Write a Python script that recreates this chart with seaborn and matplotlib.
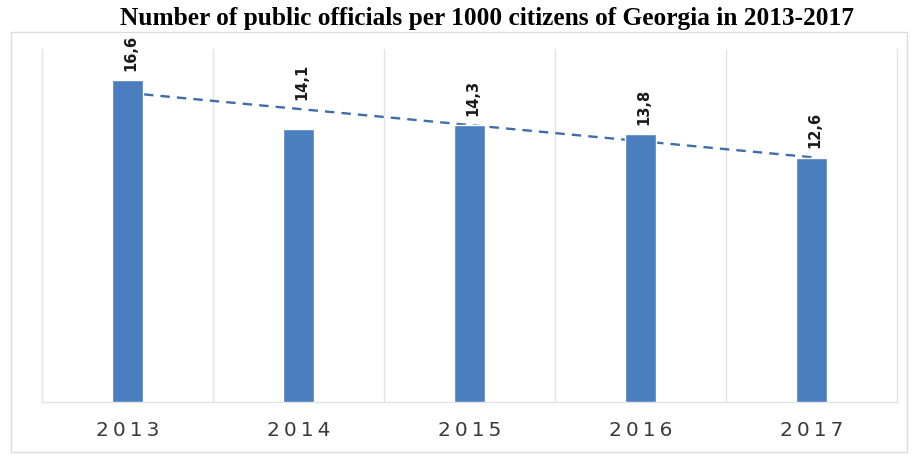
import numpy as np
import pandas as pd
import matplotlib
matplotlib.use("Agg")
import matplotlib.pyplot as plt
from matplotlib.patches import Rectangle
import seaborn as sns

years = ["2013", "2014", "2015", "2016", "2017"]
officials = [16.6, 14.1, 14.3, 13.8, 12.6]
value_labels = ["16,6", "14,1", "14,3", "13,8", "12,6"]
title = "Number of public officials per 1000 citizens of Georgia in 2013-2017"

sns.set_theme(style="white")
plt.rcParams["font.family"] = ["DejaVu Sans"]

df = pd.DataFrame({"year": years, "value": officials})

fig = plt.figure(figsize=(9.15, 4.56), dpi=100)
fig.patch.set_facecolor("white")
ax = fig.add_axes([42 / 915, 53 / 456, 855 / 915, 353 / 456])

sns.barplot(data=df, x="year", y="value", color="#4A7EBF", saturation=1,
            width=0.18, ax=ax, zorder=3)

# linear trend line
xs = np.arange(len(officials))
slope, intercept = np.polyfit(xs, officials, 1)
trend = intercept + slope * xs
sns.lineplot(x=xs, y=trend, ax=ax, color="#3F6DAA", linestyle=(0, (4, 3)),
             linewidth=1.7, zorder=2)

for i, (v, lab) in enumerate(zip(officials, value_labels)):
    ax.annotate(lab, xy=(i, max(v, trend[i])), xytext=(3, 10),
                textcoords="offset pixels", rotation=90, ha="center",
                va="bottom", fontsize=10.5, fontweight="bold",
                family=["Liberation Sans Narrow", "DejaVu Sans"],
                color="#1a1a1a")

ax.set_xlim(-0.5, len(years) - 0.5)
ax.set_ylim(0, 18.2)
ax.set_yticks([])
ax.set_xlabel("")
ax.set_ylabel("")
ax.set_xticks(xs)
ax.set_xticklabels(["\u2009".join(y) for y in years], fontsize=14.5,
                   color="#3a3a3a")
ax.tick_params(axis="x", length=0, pad=13)
ax.set_xticks(np.arange(0.5, len(years) - 0.5), minor=True)
ax.tick_params(axis="x", which="minor", length=0)
ax.grid(which="minor", axis="x", color="#e3e3e3", linewidth=1.0, zorder=0)
for side in ["left", "right", "bottom"]:
    ax.spines[side].set_color("#e3e3e3")
    ax.spines[side].set_linewidth(1.0)
ax.spines["top"].set_visible(False)

# outer chart frame
fig.patches.append(Rectangle((11 / 915, (456 - 453) / 456), 896 / 915, 420 / 456,
                             transform=fig.transFigure, fill=False,
                             edgecolor="#dcdcdc", linewidth=1.0))

fig.text(487 / 915, 1 - 19 / 456, title, ha="center", va="center",
         fontsize=18.3, fontweight="bold", family=["Liberation Serif"],
         color="black")

fig.savefig("out.png", dpi=100)
